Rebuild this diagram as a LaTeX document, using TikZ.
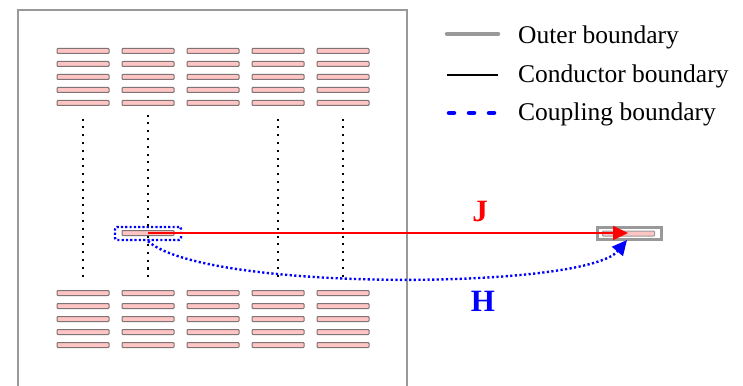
\documentclass[tikz,border=0pt]{standalone}
\usepackage{fontspec}
\setmainfont{Liberation Serif}
\usetikzlibrary{arrows.meta}
\definecolor{barfill}{HTML}{FFC4C4}
\definecolor{bardraw}{HTML}{7F7373}
\definecolor{outergray}{HTML}{999999}
\tikzset{
  bar/.style={draw=bardraw, fill=barfill, line width=1pt, rounded corners=0.8pt, minimum width=52pt, minimum height=5pt, inner sep=0pt, outer sep=0pt},
  outerline/.style={draw=outergray, line width=2.4pt},
  vdots/.style={line width=2.1pt, dash pattern=on 2.1pt off 5.7pt},
  coupling/.style={draw=blue, line width=2.4pt, dash pattern=on 2.2pt off 2.1pt},
  legtext/.style={anchor=west, font=\fontsize{25.5}{27}\selectfont, inner sep=0pt},
  lab/.style={font=\fontsize{31}{33}\selectfont\bfseries, inner sep=0pt}
}
\begin{document}
\begin{tikzpicture}[x=1pt,y=-1pt]
\useasboundingbox (0,0) rectangle (743,385);
\clip (0,0) rectangle (743,385);
\fill[white] (0,0) rectangle (743,385);
% outer boundary box (runs off the bottom)
\draw[outerline] (18,10) rectangle (407,400);
% conductor bars
\foreach \c/\x in {1/83,2/148,3/213,4/278,5/343}{
  \foreach \r/\y in {1/51,2/64,3/77,4/90,5/103}{
    \node[bar] (t-\c-\r) at (\x,\y) {};
  }
  \foreach \r/\y in {1/293,2/306,3/319,4/332,5/345}{
    \node[bar] (b-\c-\r) at (\x,\y) {};
  }
}
% source bar and coupling box
\node[bar] (src) at (148,233) {};
\node[coupling, rounded corners=2pt, minimum width=66pt, minimum height=13pt, inner sep=0pt] (cpl) at (148,233.5) {};
% target
\node[draw=outergray, line width=2.4pt, minimum width=64pt, minimum height=12pt, inner sep=0pt] (tgt) at (629.5,233.5) {};
\node[bar, draw=outergray] (tbar) at (628.5,233.5) {};
% vertical dotted lines
\foreach \c in {1,4,5}{
  \draw[vdots] ([yshift=-13pt]t-\c-5.south) -- ([yshift=11pt]b-\c-1.north);
}
\draw[vdots] ([yshift=-9pt]t-2-5.south) -- ([yshift=-2pt]cpl.north);
\draw[vdots] ([yshift=5pt]cpl.south) -- ([yshift=11pt]b-2-1.north);
% J arrow
\coordinate (jtip) at (628,233);
\draw[red, line width=2pt, -{Triangle[length=15pt,width=14pt]}] (src.center) -- (jtip);
% H curve
\coordinate (htip) at (627,240);
\draw[blue, line width=2.4pt, dash pattern=on 2.2pt off 2.4pt, -{Triangle[length=15pt,width=14pt]}]
  (cpl.south) .. controls (205,292) and (585,290) .. (htip);
% labels
\node[lab, text=red] (jlab) at (480,212) {J};
\node[lab, text=blue] (hlab) at (483,301) {H};
% legend
\coordinate (l1a) at (447,34); \coordinate (l1b) at (498,34);
\coordinate (l2a) at (447,75); \coordinate (l2b) at (498,75);
\coordinate (l3a) at (447,113); \coordinate (l3b) at (498,113);
\draw[draw=outergray, line width=4.5pt, line cap=round] (l1a) -- (l1b);
\draw[black, line width=1.1pt] (l2a) -- (l2b);
\draw[blue, line width=4.5pt, line cap=round, dash pattern=on 5pt off 15pt] ([xshift=2pt]l3a) -- (l3b);
\node[legtext] (t1) at (518,37) {Outer boundary};
\node[legtext] (t2) at (518,76) {Conductor boundary};
\node[legtext] (t3) at (518,114) {Coupling boundary};
\end{tikzpicture}
\end{document}
